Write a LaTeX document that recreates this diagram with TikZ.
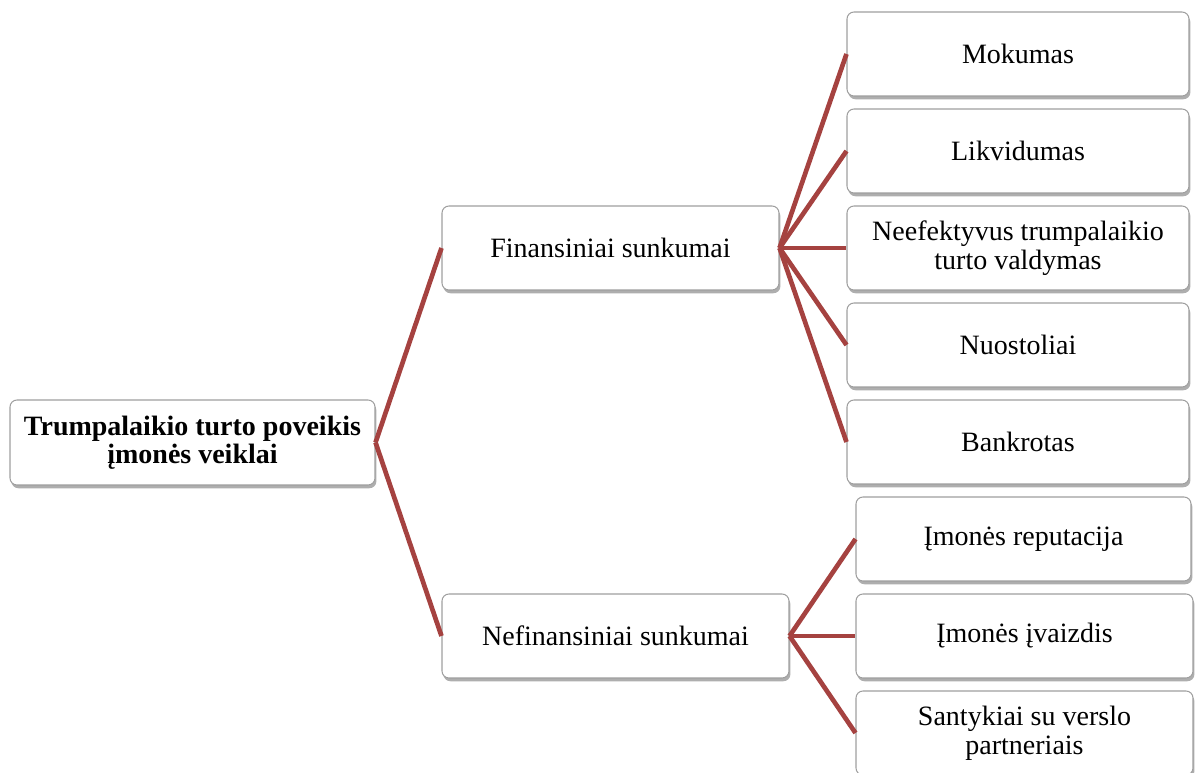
\documentclass[tikz,border=0pt]{standalone}
\usepackage{fontspec}
\setmainfont{Liberation Serif}
\usetikzlibrary{shadows}
\tikzset{
  px/.style={x=0.4286pt,y=-0.4286pt},
  box/.style={draw=gray!75, line width=0.45pt, rounded corners=3pt, fill=white,
    drop shadow={shadow xshift=0.6pt, shadow yshift=-1.4pt, opacity=0.45, fill=black!70},
    align=center, inner sep=0pt, font=\fontsize{12}{12.6}\selectfont},
  conn/.style={draw={rgb,255:red,165;green,66;blue,64}, line width=2pt, line cap=butt}
}
\begin{document}
\begin{tikzpicture}[px]
\useasboundingbox (0,0) rectangle (1195,773);
% root
\node[box, minimum width=365*0.4286pt, minimum height=85*0.4286pt, font=\fontsize{12}{11.8}\selectfont\bfseries]
  (root) at (192.5,442.5) {Trumpalaikio turto poveikis\\įmonės veiklai};
% level 1
\node[box, minimum width=337*0.4286pt, minimum height=84*0.4286pt] (fin) at (610.5,248) {Finansiniai sunkumai};
\node[box, minimum width=347*0.4286pt, minimum height=84*0.4286pt] (nefin) at (615.5,636) {Nefinansiniai sunkumai};
% financial children
\node[box, minimum width=342*0.4286pt, minimum height=84*0.4286pt] (mok) at (1018,54) {Mokumas};
\node[box, minimum width=342*0.4286pt, minimum height=84*0.4286pt] (lik) at (1018,151) {Likvidumas};
\node[box, minimum width=342*0.4286pt, minimum height=84*0.4286pt] (nee) at (1018,248) {Neefektyvus trumpalaikio\\turto valdymas};
\node[box, minimum width=342*0.4286pt, minimum height=84*0.4286pt] (nuo) at (1018,345) {Nuostoliai};
\node[box, minimum width=342*0.4286pt, minimum height=84*0.4286pt] (ban) at (1018,442) {Bankrotas};
% non-financial children
\node[box, minimum width=335*0.4286pt, minimum height=84*0.4286pt] (rep) at (1023.5,539) {Įmonės reputacija};
\node[box, minimum width=337*0.4286pt, minimum height=84*0.4286pt] (ivz) at (1024.5,636) {Įmonės įvaizdis};
\node[box, minimum width=337*0.4286pt, minimum height=84*0.4286pt] (san) at (1024.5,733) {Santykiai su verslo\\partneriais};
% connectors
\draw[conn] (root.east) -- (fin.west);
\draw[conn] (root.east) -- (nefin.west);
\foreach \t in {mok,lik,nee,nuo,ban} \draw[conn] (fin.east) -- (\t.west);
\foreach \t in {rep,ivz,san} \draw[conn] (nefin.east) -- (\t.west);
\end{tikzpicture}
\end{document}
